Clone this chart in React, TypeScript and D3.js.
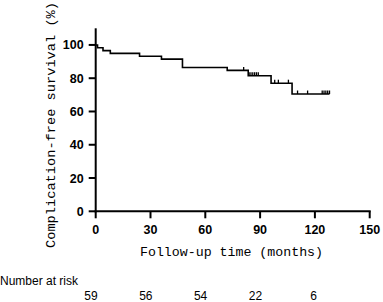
import React from "react";
import * as d3 from "d3";

// Kaplan-Meier step points (time in months, survival %)
const stepTimes = [0, 1, 4, 8, 24, 36, 47.5, 72, 83.5, 96, 107.5];
const stepSurvival = [100, 98.3, 96.6, 94.9, 93.2, 91.5, 86.4, 84.7, 81.5, 77.0, 70.5];
const endTime = 128;
const censorTimes = [81, 84, 85, 86, 87, 88, 89, 98, 100, 105.5, 110.5, 116, 124, 125, 126, 127, 128];

const xTicks = [0, 30, 60, 90, 120, 150];
const yTicks = [0, 20, 40, 60, 80, 100];
const riskTimes = [0, 30, 60, 90, 120];
const riskCounts = ["59", "56", "54", "22", "6"];

const W = 383;
const H = 302;

function survivalAt(t: number): number {
  let s = stepSurvival[0];
  for (let i = 0; i < stepTimes.length; i++) {
    if (stepTimes[i] <= t) s = stepSurvival[i];
  }
  return s;
}

export default function App() {
  const x = d3.scaleLinear().domain([0, 150]).range([95.7, 369.7]);
  const y = d3.scaleLinear().domain([0, 110]).range([211.3, 28.3]);

  const pts: [number, number][] = stepTimes.map((t, i) => [t, stepSurvival[i]]);
  pts.push([endTime, stepSurvival[stepSurvival.length - 1]]);
  const line = d3
    .line<[number, number]>()
    .x((d) => x(d[0]))
    .y((d) => y(d[1]))
    .curve(d3.curveStepAfter);

  const axisFont = "'Liberation Sans', Arial, sans-serif";
  const labelFont = "'Liberation Mono', 'Courier New', monospace";

  return (
    <svg
      width={W}
      height={H}
      style={{ position: "absolute", left: 0, top: 0, background: "#fff" }}
    >
      {/* Y axis */}
      <line x1={x(0)} x2={x(0)} y1={y(110)} y2={y(0) + 1} stroke="#000" strokeWidth={2} />
      {yTicks.map((v) => (
        <g key={"y" + v}>
          <line x1={x(0) - 7} x2={x(0)} y1={y(v)} y2={y(v)} stroke="#000" strokeWidth={2} />
          <text
            x={x(0) - 12}
            y={y(v) + 4.5}
            textAnchor="end"
            fontFamily={axisFont}
            fontWeight="bold"
            fontSize={12.5}
          >
            {v}
          </text>
        </g>
      ))}
      {/* X axis */}
      <line x1={x(0) - 1} x2={x(150) + 1} y1={y(0)} y2={y(0)} stroke="#000" strokeWidth={2} />
      {xTicks.map((v) => (
        <g key={"x" + v}>
          <line x1={x(v)} x2={x(v)} y1={y(0)} y2={y(0) + 7} stroke="#000" strokeWidth={2} />
          <text
            x={x(v)}
            y={233.5}
            textAnchor="middle"
            fontFamily={axisFont}
            fontWeight="bold"
            fontSize={12.5}
          >
            {v}
          </text>
        </g>
      ))}
      {/* Axis titles */}
      <text
        x={231.5}
        y={256}
        textAnchor="middle"
        fontFamily={labelFont}
        fontSize={13.3}
        textLength={183}
        lengthAdjust="spacingAndGlyphs"
      >
        Follow-up time (months)
      </text>
      <text
        transform="translate(55,125) rotate(-90)"
        textAnchor="middle"
        fontFamily={labelFont}
        fontSize={13.3}
        textLength={246}
        lengthAdjust="spacingAndGlyphs"
      >
        Complication-free survival (%)
      </text>
      {/* KM curve */}
      <path d={line(pts) || ""} fill="none" stroke="#000" strokeWidth={1.6} />
      {censorTimes.map((t, i) => (
        <line
          key={"c" + i}
          x1={x(t)}
          x2={x(t)}
          y1={y(survivalAt(t))}
          y2={y(survivalAt(t)) - 3.5}
          stroke="#000"
          strokeWidth={1.3}
        />
      ))}
      {/* Number at risk */}
      <text x={0} y={285} fontFamily={axisFont} fontSize={12}>
        Number at risk
      </text>
      {riskTimes.map((t, i) => (
        <text
          key={"r" + i}
          x={x(t) + 2}
          y={299.5}
          textAnchor="end"
          fontFamily={axisFont}
          fontSize={12}
        >
          {riskCounts[i]}
        </text>
      ))}
    </svg>
  );
}
